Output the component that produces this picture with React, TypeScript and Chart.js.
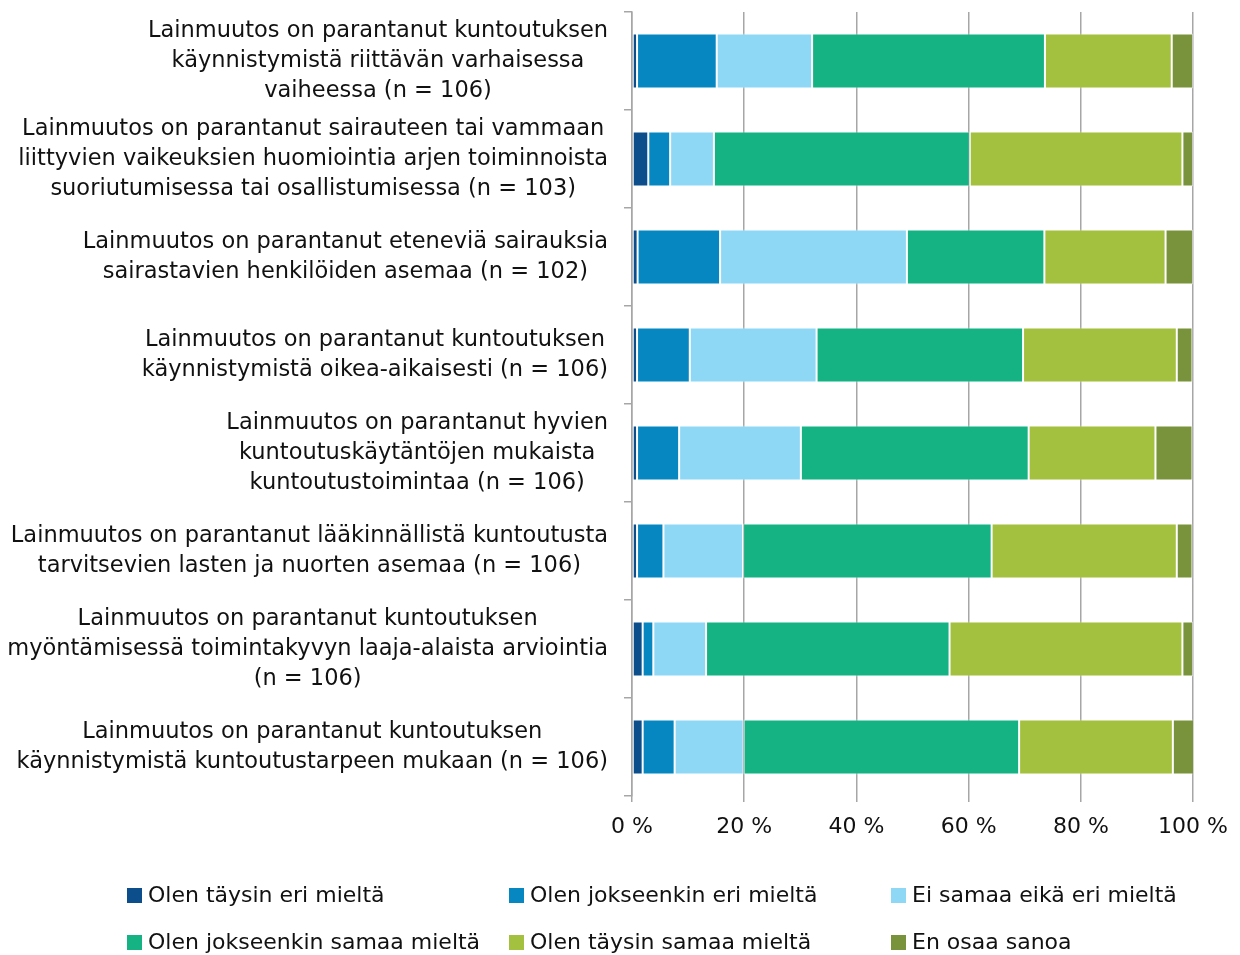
import React, { useEffect, useRef } from "react";
import { Chart, registerables } from "chart.js";

Chart.register(...registerables);

const categories: string[][] = [
  ["Lainmuutos on parantanut kuntoutuksen", "käynnistymistä riittävän varhaisessa", "vaiheessa (n = 106)"],
  ["Lainmuutos on parantanut sairauteen tai vammaan", "liittyvien vaikeuksien huomiointia arjen toiminnoista", "suoriutumisessa tai osallistumisessa (n = 103)"],
  ["Lainmuutos on parantanut eteneviä sairauksia", "sairastavien henkilöiden asemaa (n = 102)"],
  ["Lainmuutos on parantanut kuntoutuksen", "käynnistymistä oikea-aikaisesti (n = 106)"],
  ["Lainmuutos on parantanut hyvien", "kuntoutuskäytäntöjen mukaista", "kuntoutustoimintaa (n = 106)"],
  ["Lainmuutos on parantanut lääkinnällistä kuntoutusta", "tarvitsevien lasten ja nuorten asemaa (n = 106)"],
  ["Lainmuutos on parantanut kuntoutuksen", "myöntämisessä toimintakyvyn laaja-alaista arviointia", "(n = 106)"],
  ["Lainmuutos on parantanut kuntoutuksen", "käynnistymistä kuntoutustarpeen mukaan (n = 106)"],
];

const seriesNames = [
  "Olen täysin eri mieltä",
  "Olen jokseenkin eri mieltä",
  "Ei samaa eikä eri mieltä",
  "Olen jokseenkin samaa mieltä",
  "Olen täysin samaa mieltä",
  "En osaa sanoa",
];

const taysinEri = [0.9, 2.9, 1.0, 0.9, 0.9, 0.9, 1.9, 1.9];
const jokseenkinEri = [14.2, 3.9, 14.7, 9.4, 7.5, 4.7, 1.9, 5.7];
const eiSamaaEikaEri = [17.0, 7.8, 33.3, 22.6, 21.7, 14.2, 9.4, 12.3];
const jokseenkinSamaa = [41.5, 45.6, 24.5, 36.8, 40.6, 44.3, 43.4, 49.1];
const taysinSamaa = [22.6, 37.9, 21.6, 27.4, 22.6, 33.0, 41.5, 27.4];
const enOsaa = [3.8, 1.9, 4.9, 2.8, 6.6, 2.8, 1.9, 3.8];

const xTicks = [0, 20, 40, 60, 80, 100];

const colors = ["#0c4e8b", "#0787c1", "#8ed8f6", "#15b384", "#a3c03e", "#78933b"];

const FONT = '"DejaVu Sans", sans-serif';

export default function App() {
  const ref = useRef<HTMLCanvasElement | null>(null);

  useEffect(() => {
    if (!ref.current) return;
    const values = [taysinEri, jokseenkinEri, eiSamaaEikaEri, jokseenkinSamaa, taysinSamaa, enOsaa];

    const labelPlugin = {
      id: "customLabels",
      afterDraw(chart: any) {
        const ctx = chart.ctx;
        const yScale = chart.scales.y;
        ctx.save();
        ctx.font = `22.5px ${FONT}`;
        ctx.fillStyle = "#111";
        ctx.textAlign = "center";
        ctx.textBaseline = "middle";
        const rightEdge = chart.chartArea.left - 24;
        categories.forEach((lines, i) => {
          const cy = yScale.getPixelForTick(i);
          const maxW = Math.max(...lines.map((l) => ctx.measureText(l).width));
          const cx = rightEdge - maxW / 2;
          const lh = 30;
          const y0 = cy - ((lines.length - 1) * lh) / 2;
          lines.forEach((l, k) => ctx.fillText(l, cx, y0 + k * lh));
        });

        // legend
        ctx.font = `22px ${FONT}`;
        ctx.textAlign = "left";
        const colX = [127, 509, 891];
        const rowY = [895, 942];
        seriesNames.forEach((name, i) => {
          const x = colX[i % 3];
          const y = rowY[Math.floor(i / 3)];
          ctx.fillStyle = colors[i];
          ctx.fillRect(x, y - 7, 15, 15);
          ctx.fillStyle = "#111";
          ctx.fillText(name, x + 21, y + 1);
        });
        ctx.restore();
      },
    };

    const chart = new Chart(ref.current, {
      type: "bar",
      data: {
        labels: categories.map((c) => c.join(" ")),
        datasets: seriesNames.map((name, i) => ({
          label: name,
          data: values[i],
          backgroundColor: colors[i],
          borderColor: "rgba(255,255,255,0.45)",
          borderWidth: 1,
          borderSkipped: false,
          categoryPercentage: 1,
          barPercentage: 0.56,
        })),
      },
      options: {
        indexAxis: "y",
        responsive: false,
        animation: false,
        layout: { padding: { top: 12, right: 42, bottom: 109, left: 0 } },
        plugins: {
          legend: { display: false },
          tooltip: { enabled: false },
        },
        scales: {
          x: {
            stacked: true,
            min: 0,
            max: 100,
            afterBuildTicks(scale: any) {
              scale.ticks = xTicks.map((v) => ({ value: v }));
            },
            afterFit(scale: any) {
              scale.height = 50;
            },
            ticks: {
              callback: (v: any) => `${v} %`,
              font: { family: FONT, size: 22 },
              color: "#111",
              padding: 12,
              maxRotation: 0,
            },
            grid: {
              color: "#a6a6a6",
              lineWidth: 1.5,
              tickLength: 6,
              drawTicks: true,
            },
            border: { display: false },
          },
          y: {
            stacked: true,
            afterFit(scale: any) {
              scale.width = 632;
            },
            ticks: { display: false },
            grid: {
              drawOnChartArea: false,
              drawTicks: true,
              tickLength: 8,
              offset: true,
              color: "#a6a6a6",
              lineWidth: 1.5,
            },
            border: { display: true, color: "#a6a6a6", width: 1.5 },
          },
        },
      },
      plugins: [labelPlugin],
    } as any);

    return () => chart.destroy();
  }, []);

  return (
    <div style={{ position: "fixed", left: 0, top: 0, width: 1240, height: 955, background: "#fff" }}>
      <canvas ref={ref} width={1240} height={955} style={{ display: "block" }} />
    </div>
  );
}
